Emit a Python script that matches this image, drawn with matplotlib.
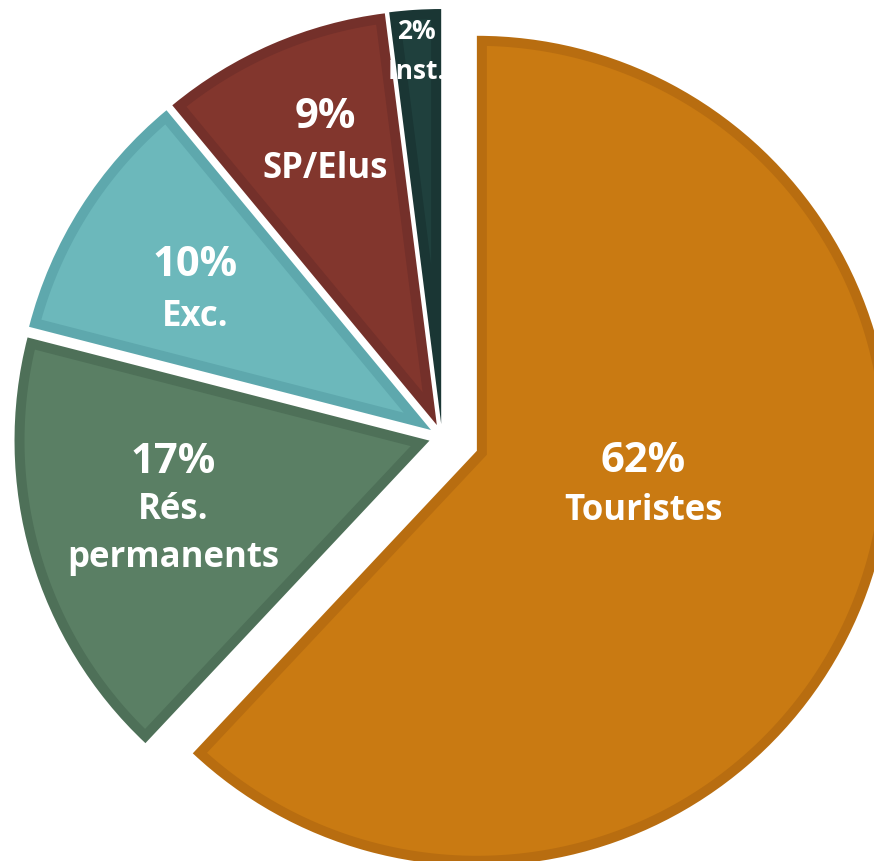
import matplotlib.pyplot as plt
import numpy as np

labels = ['Touristes', 'Rés.\npermanents', 'Exc.', 'SP/Elus', 'Inst.']
values = [62, 17, 10, 9, 2]
colors = ['#C97A12', '#5A7F64', '#6CB8BB', '#82362D', '#1F403D']
edges = ['#B86D10', '#4E7058', '#5EA8AD', '#74302A', '#1A3634']
explode = [37.5, 13, 13, 13, 13]

# label placement (fraction of radius, angle shift in degrees)
lab_r = [0.41, 0.64, 0.66, 0.73, 0.90]
lab_da = [9.6, -1.0, 2.0, -1.8, 0.2]
pct_size = [30, 30, 30, 30, 19]
name_size = [25, 25, 25, 25, 19]
line_gap = [49, 48, 51, 52, 40]

W, H = 874, 861
R = 415
B = 10  # border thickness inside each slice


def inset(w, b):
    # shape of the wedge shrunk inward by b
    vx, vy = w.center
    r = w.r
    a1, a2 = np.radians(w.theta1), np.radians(w.theta2)
    half = (a2 - a1) / 2
    m = a1 + half
    s = b / np.sin(half)
    d = np.array([np.cos(m), np.sin(m)]) * s

    def hit(a):
        u = np.array([np.cos(a), np.sin(a)])
        du = d @ u
        t = -du + np.sqrt(du ** 2 - d @ d + (r - b) ** 2)
        p = d + t * u
        return np.arctan2(p[1], p[0])

    p1, p2 = hit(a1), hit(a2)
    if p2 < p1:
        p2 += 2 * np.pi
    arc = np.linspace(p1, p2, 200)
    xs = np.concatenate([[d[0]], (r - b) * np.cos(arc)]) + vx
    ys = np.concatenate([[d[1]], (r - b) * np.sin(arc)]) + vy
    return xs, ys


fig = plt.figure(figsize=(W / 100, H / 100), dpi=100)
ax = fig.add_axes([0, 0, 1, 1])

wedges, _ = ax.pie(values, explode=explode, colors=edges, startangle=90,
                   counterclock=False, radius=R, center=(442, H - 437),
                   wedgeprops=dict(linewidth=0))
for w, c in zip(wedges, colors):
    xs, ys = inset(w, B)
    ax.fill(xs, ys, color=c, lw=0)

for i, w in enumerate(wedges):
    mid = (w.theta1 + w.theta2) / 2 + lab_da[i]
    cx, cy = w.center
    x = cx + lab_r[i] * R * np.cos(np.radians(mid))
    y = cy + lab_r[i] * R * np.sin(np.radians(mid))
    lines = [f'{values[i]}%'] + labels[i].split('\n')
    n = len(lines)
    for j, t in enumerate(lines):
        yy = y + (n - 1) / 2 * line_gap[i] - j * line_gap[i]
        ax.text(x, yy, t, ha='center', va='center', color='white',
                fontsize=pct_size[i] if j == 0 else name_size[i],
                fontweight='bold', family=['Open Sans', 'DejaVu Sans'])

ax.set_xlim(0, W)
ax.set_ylim(0, H)
ax.set_aspect('auto')
ax.axis('off')
fig.savefig('out.png', dpi=100)
